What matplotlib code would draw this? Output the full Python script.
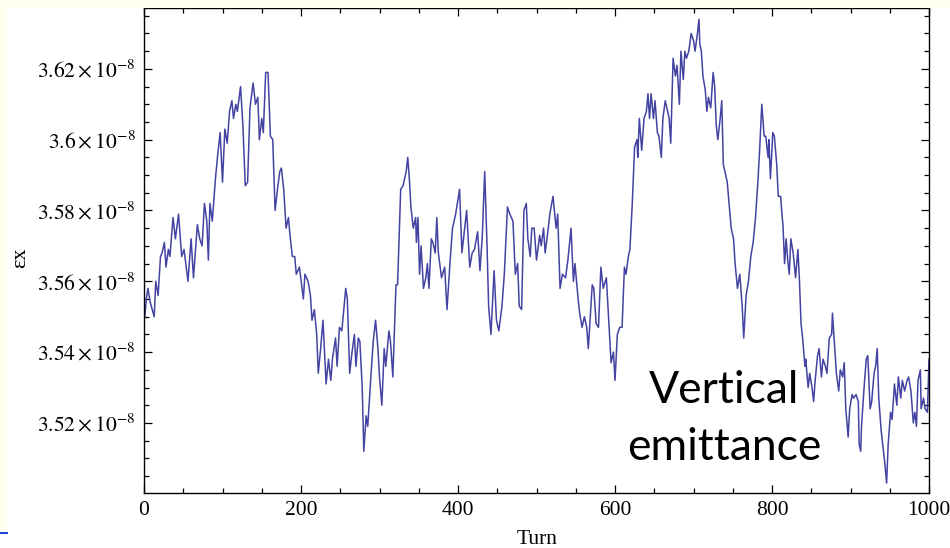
import matplotlib
matplotlib.use("Agg")
import matplotlib.pyplot as plt
from matplotlib.patches import Rectangle
from matplotlib.ticker import MultipleLocator, FixedLocator

# emittance, units of 1e-8
turn = [1, 3, 5, 8, 13, 15, 18, 21, 23, 26, 28, 31, 33, 37, 40, 44, 48, 51, 56, 60,
        63, 68, 71, 74, 77, 80, 82, 84, 87, 91, 94, 97, 100, 103, 106, 109, 112, 114, 117, 119,
        123, 126, 129, 132, 135, 139, 142, 145, 147, 150, 152, 155, 158, 161, 164, 167, 170, 173, 175, 178,
        181, 184, 186, 189, 192, 194, 198, 203, 205, 209, 212, 214, 217, 220, 222, 225, 228, 232, 235, 238,
        240, 244, 246, 249, 252, 257, 259, 262, 265, 268, 270, 273, 275, 278, 280, 283, 285, 289, 292, 295,
        298, 300, 303, 306, 308, 312, 314, 317, 321, 323, 327, 330, 334, 336, 338, 340, 343, 346, 347, 349,
        351, 353, 356, 359, 361, 363, 366, 368, 371, 373, 375, 379, 383, 386, 390, 393, 397, 402, 405, 408,
        411, 415, 418, 421, 425, 428, 431, 434, 437, 439, 442, 446, 449, 452, 456, 459, 463, 466, 470, 473,
        476, 478, 481, 484, 487, 489, 492, 494, 497, 500, 504, 506, 509, 511, 515, 517, 521, 525, 527, 530,
        533, 537, 540, 544, 547, 549, 553, 555, 558, 561, 564, 566, 571, 573, 576, 579, 582, 585, 589, 591,
        595, 598, 600, 603, 606, 609, 612, 614, 617, 619, 622, 625, 628, 629, 631, 634, 637, 640, 642, 644,
        646, 649, 651, 654, 656, 659, 661, 664, 667, 669, 671, 674, 677, 679, 682, 684, 687, 689, 691, 694,
        697, 700, 702, 705, 707, 708, 710, 712, 715, 717, 719, 722, 725, 727, 729, 731, 734, 736, 738, 740,
        743, 746, 748, 751, 753, 756, 759, 762, 764, 767, 770, 773, 776, 779, 782, 784, 787, 790, 792, 795,
        796, 798, 801, 803, 806, 808, 811, 813, 814, 816, 818, 820, 822, 824, 827, 830, 833, 835, 837, 839,
        842, 843, 846, 848, 851, 853, 855, 858, 860, 863, 865, 868, 870, 873, 876, 877, 880, 882, 885, 887,
        890, 892, 894, 897, 899, 902, 904, 907, 910, 911, 913, 914, 917, 920, 922, 925, 927, 930, 932, 934,
        936, 939, 942, 944, 946, 948, 951, 953, 956, 959, 961, 964, 966, 969, 972, 974, 977, 980, 982, 984,
        986, 989, 990, 993, 995, 998, 1000]
emit = [3.550, 3.555, 3.558, 3.554, 3.550, 3.560, 3.556, 3.567, 3.568, 3.571, 3.564, 3.569, 3.567, 3.578, 3.572, 3.579, 3.567, 3.569, 3.560, 3.572,
        3.561, 3.576, 3.572, 3.570, 3.582, 3.577, 3.566, 3.582, 3.577, 3.589, 3.596, 3.602, 3.588, 3.603, 3.599, 3.608, 3.611, 3.606, 3.610, 3.608,
        3.615, 3.604, 3.587, 3.588, 3.609, 3.616, 3.610, 3.612, 3.600, 3.606, 3.602, 3.619, 3.619, 3.601, 3.600, 3.580, 3.586, 3.591, 3.592, 3.586,
        3.575, 3.578, 3.573, 3.567, 3.567, 3.562, 3.564, 3.555, 3.562, 3.560, 3.556, 3.549, 3.552, 3.545, 3.534, 3.541, 3.549, 3.531, 3.538, 3.532,
        3.538, 3.544, 3.536, 3.547, 3.546, 3.558, 3.555, 3.534, 3.540, 3.545, 3.536, 3.544, 3.543, 3.530, 3.512, 3.522, 3.519, 3.533, 3.543, 3.549,
        3.541, 3.533, 3.525, 3.541, 3.536, 3.546, 3.543, 3.533, 3.559, 3.559, 3.586, 3.587, 3.591, 3.595, 3.589, 3.581, 3.575, 3.578, 3.571, 3.578,
        3.562, 3.570, 3.558, 3.561, 3.565, 3.558, 3.572, 3.571, 3.568, 3.578, 3.568, 3.561, 3.564, 3.552, 3.566, 3.575, 3.579, 3.586, 3.568, 3.574,
        3.580, 3.564, 3.568, 3.569, 3.574, 3.563, 3.573, 3.591, 3.570, 3.553, 3.545, 3.563, 3.549, 3.546, 3.553, 3.562, 3.581, 3.579, 3.577, 3.562,
        3.565, 3.553, 3.552, 3.580, 3.582, 3.572, 3.567, 3.575, 3.575, 3.566, 3.573, 3.570, 3.575, 3.568, 3.575, 3.579, 3.584, 3.575, 3.579, 3.558,
        3.562, 3.561, 3.566, 3.575, 3.560, 3.565, 3.555, 3.551, 3.547, 3.550, 3.547, 3.541, 3.559, 3.558, 3.548, 3.547, 3.564, 3.558, 3.561, 3.553,
        3.537, 3.540, 3.532, 3.545, 3.547, 3.547, 3.564, 3.562, 3.567, 3.569, 3.582, 3.598, 3.600, 3.595, 3.606, 3.597, 3.606, 3.608, 3.613, 3.606,
        3.613, 3.606, 3.611, 3.602, 3.601, 3.595, 3.606, 3.611, 3.608, 3.606, 3.599, 3.623, 3.618, 3.621, 3.610, 3.625, 3.617, 3.625, 3.623, 3.625,
        3.630, 3.628, 3.625, 3.630, 3.634, 3.627, 3.625, 3.618, 3.614, 3.608, 3.612, 3.609, 3.619, 3.615, 3.604, 3.600, 3.606, 3.611, 3.593, 3.591,
        3.588, 3.580, 3.575, 3.572, 3.565, 3.558, 3.562, 3.553, 3.544, 3.556, 3.560, 3.567, 3.571, 3.578, 3.588, 3.596, 3.610, 3.601, 3.601, 3.595,
        3.600, 3.589, 3.602, 3.601, 3.593, 3.584, 3.584, 3.578, 3.576, 3.565, 3.572, 3.566, 3.562, 3.572, 3.568, 3.561, 3.569, 3.560, 3.548, 3.544,
        3.536, 3.538, 3.530, 3.534, 3.530, 3.526, 3.532, 3.539, 3.541, 3.533, 3.538, 3.536, 3.534, 3.544, 3.545, 3.551, 3.541, 3.534, 3.529, 3.535,
        3.533, 3.537, 3.524, 3.516, 3.524, 3.528, 3.527, 3.528, 3.526, 3.514, 3.512, 3.519, 3.529, 3.538, 3.539, 3.524, 3.526, 3.534, 3.536, 3.541,
        3.527, 3.518, 3.512, 3.508, 3.503, 3.514, 3.523, 3.521, 3.531, 3.525, 3.533, 3.527, 3.532, 3.529, 3.532, 3.533, 3.529, 3.520, 3.523, 3.519,
        3.532, 3.535, 3.524, 3.527, 3.524, 3.523, 3.538]

ytick_vals = [3.52, 3.54, 3.56, 3.58, 3.60, 3.62]
ytick_text = ["3.52", "3.54", "3.56", "3.58", "3.6", "3.62"]

plt.rcParams['mathtext.fontset'] = 'stix'
plt.rcParams['font.family'] = 'Liberation Serif'

fig = plt.figure(figsize=(9.5, 5.48), dpi=100, facecolor='white')
# cream slide border at top and left
fig.patches.append(Rectangle((0, 1 - 8 / 548), 1, 8 / 548, transform=fig.transFigure,
                             facecolor='#fffff0', edgecolor='none'))
fig.patches.append(Rectangle((0, 1 - 532 / 548), 7 / 950, 532 / 548, transform=fig.transFigure,
                             facecolor='#fffff0', edgecolor='none'))
fig.patches.append(Rectangle((0, 1 - 534 / 548), 8 / 950, 2 / 548, transform=fig.transFigure,
                             facecolor='#2040e0', edgecolor='none'))

ax = fig.add_axes([144 / 950, 1 - 493 / 548, 785 / 950, 485 / 548])
ax.plot(turn, [v * 1e-8 for v in emit], color='#4343a2', lw=1.1)

ax.set_xlim(0, 1000)
ax.set_ylim(3.5002e-8, 3.6372e-8)
ax.xaxis.set_major_locator(MultipleLocator(200))
ax.xaxis.set_minor_locator(MultipleLocator(50))
ax.yaxis.set_major_locator(FixedLocator([v * 1e-8 for v in ytick_vals]))
ax.yaxis.set_minor_locator(MultipleLocator(0.005e-8))
ax.set_yticklabels([r'$%s\times10^{-8}$' % t for t in ytick_text])
ax.tick_params(which='both', direction='in', top=True, right=True, color='black', width=0.9)
ax.tick_params(which='major', length=6, labelsize=15.5)
ax.tick_params(which='minor', length=3.5)
ax.tick_params(axis='x', pad=6)
ax.tick_params(axis='y', pad=6)
for s in ax.spines.values():
    s.set_linewidth(1.0)

fig.text(21 / 950, 1 - 258 / 548, 'εx', rotation=90, ha='center', va='center', fontsize=16)
fig.text(537 / 950, 1 - 540 / 548, 'Turn', ha='center', va='center', fontsize=15.5)

fig.text(724 / 950, 1 - 403 / 548, 'Vertical', ha='center', va='baseline',
         fontsize=32, family='Lato')
fig.text(724 / 950, 1 - 460 / 548, 'emittance', ha='center', va='baseline',
         fontsize=32, family='Lato')

fig.savefig('out.png', dpi=100)
